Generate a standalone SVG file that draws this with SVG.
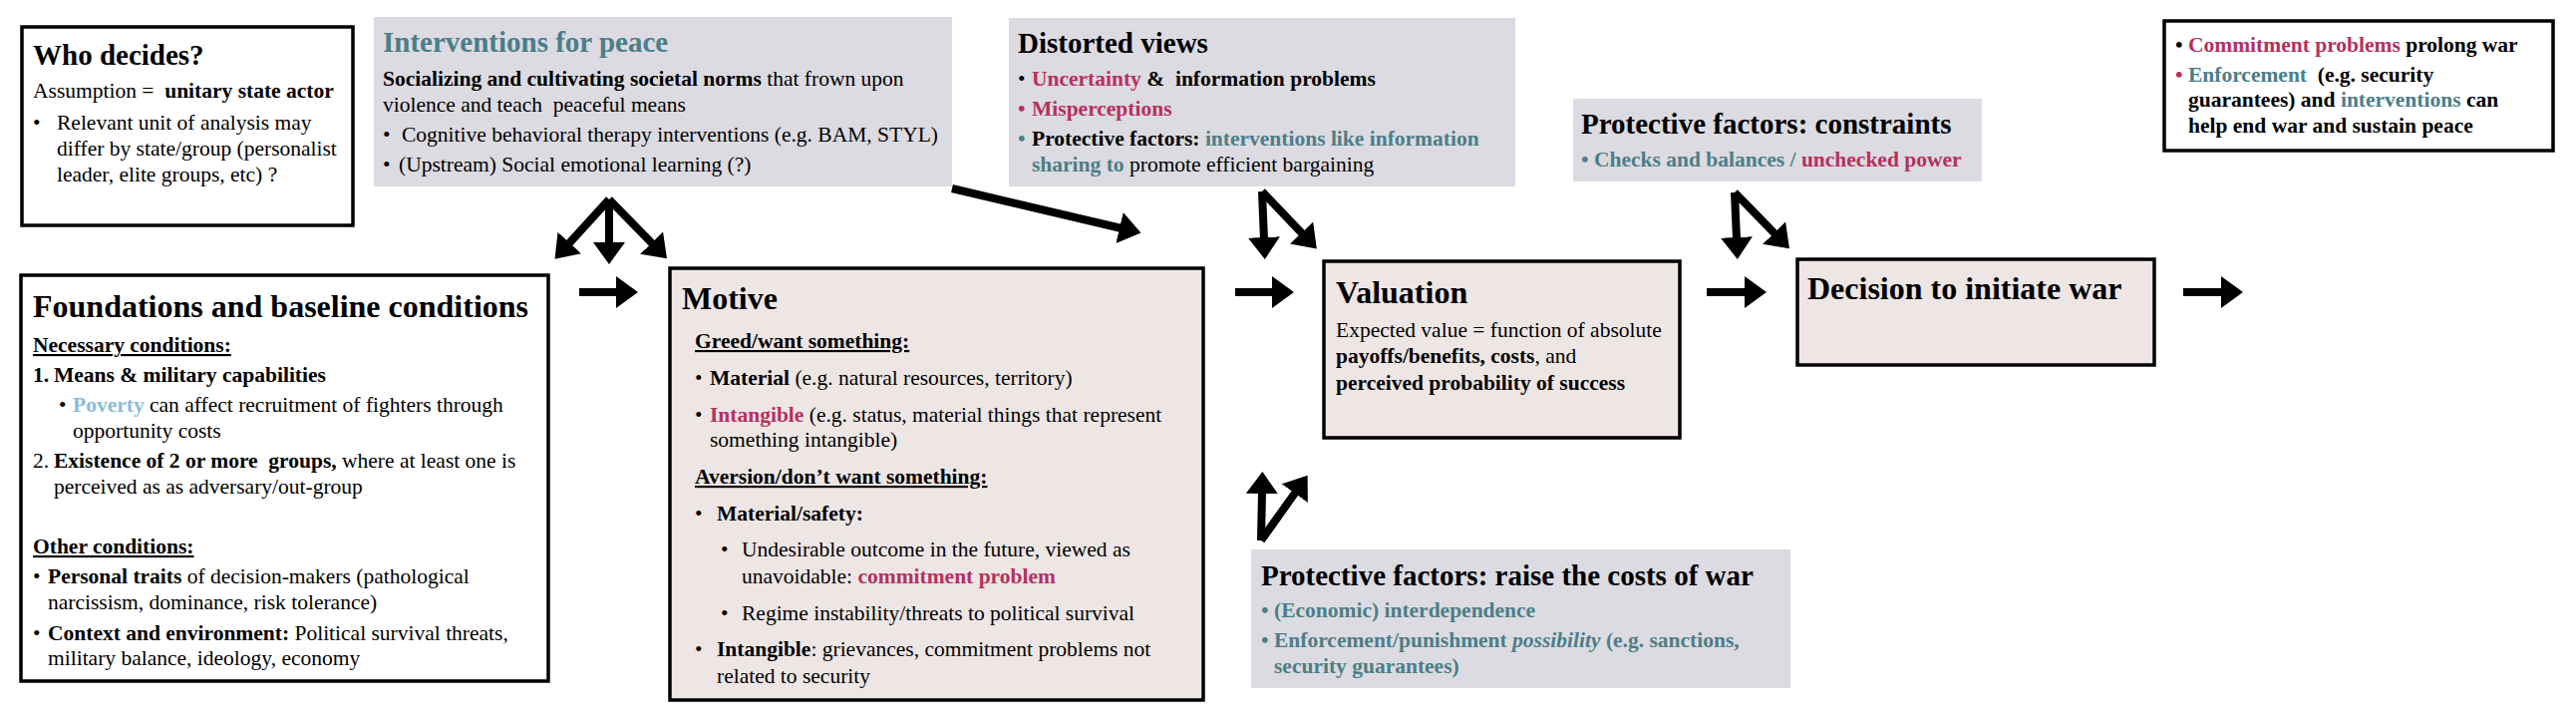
<svg xmlns="http://www.w3.org/2000/svg" width="2584" height="714" viewBox="0 0 2584 714">
<style>
text{font-family:"Liberation Serif","Times New Roman",serif;font-size:21.5px;fill:#000}
.t32{font-size:32px;font-weight:bold}
.t29{font-size:29px;font-weight:bold}
.b{font-weight:bold}
.i{font-style:italic}
.u{text-decoration:underline}
.cr{fill:#B5305F;font-weight:bold}
.tl{fill:#4B7E88;font-weight:bold}
.pv{fill:#8DBCD8;font-weight:bold}
.wbox{fill:#FFFFFF;stroke:#000;stroke-width:3.5}
.pbox{fill:#EEE6E5;stroke:#000;stroke-width:3.5}
.gbox{fill:#DCDBE1;stroke:none}
.con{fill:none;stroke:#000;stroke-width:8;marker-end:url(#ah)}
</style>
<defs>
<marker id="ah" markerUnits="userSpaceOnUse" markerWidth="24" markerHeight="32" refX="2" refY="16" orient="auto" viewBox="0 0 24 32">
<path d="M0,0 L22,16 L0,32 z" fill="#000"/>
</marker>
</defs>
<rect width="2584" height="714" fill="#FFFFFF"/>

<g id="who-decides">
<rect class="wbox" x="22" y="27" width="332" height="199"/>
<text class="t29" x="33" y="65">Who decides?</text>
<text x="33" y="98" xml:space="preserve">Assumption =  <tspan class="b">unitary state actor</tspan></text>
<text x="33" y="130">•</text>
<text x="57" y="130">Relevant unit of analysis may</text>
<text x="57" y="156">differ by state/group (personalist</text>
<text x="57" y="182">leader, elite groups, etc) ?</text>
</g>

<g id="interventions">
<rect class="gbox" x="375" y="17" width="580" height="170"/>
<text class="t29" x="384" y="52" style="fill:#4B7E88">Interventions for peace</text>
<text x="384" y="86"><tspan class="b">Socializing and cultivating societal norms</tspan> that frown upon</text>
<text x="384" y="112" xml:space="preserve">violence and teach  peaceful means</text>
<text x="384" y="142">•</text>
<text x="403" y="142">Cognitive behavioral therapy interventions (e.g. BAM, STYL)</text>
<text x="384" y="172">•</text>
<text x="400" y="172">(Upstream) Social emotional learning (?)</text>
</g>

<g id="foundations">
<rect class="wbox" x="21" y="276" width="529" height="407"/>
<text class="t32" x="33" y="318">Foundations and baseline conditions</text>
<text class="b u" x="33" y="353">Necessary conditions:</text>
<text class="b" x="33" y="383">1.</text>
<text class="b" x="54" y="383">Means &amp; military capabilities</text>
<text x="59" y="413">•</text>
<text x="73" y="413"><tspan class="pv">Poverty</tspan> can affect recruitment of fighters through</text>
<text x="73" y="439">opportunity costs</text>
<text x="33" y="469">2.</text>
<text x="54" y="469" xml:space="preserve"><tspan class="b">Existence of 2 or more  groups,</tspan> where at least one is</text>
<text x="54" y="495">perceived as as adversary/out-group</text>
<text class="b u" x="33" y="555">Other conditions:</text>
<text x="33" y="585">•</text>
<text x="48" y="585"><tspan class="b">Personal traits</tspan> of decision-makers (pathological</text>
<text x="48" y="611">narcissism, dominance, risk tolerance)</text>
<text x="33" y="642">•</text>
<text x="48" y="642"><tspan class="b">Context and environment:</tspan> Political survival threats,</text>
<text x="48" y="667">military balance, ideology, economy</text>
</g>

<g id="motive">
<rect class="pbox" x="672" y="269" width="535" height="433"/>
<text class="t32" x="684" y="310">Motive</text>
<text class="b u" x="697" y="349">Greed/want something:</text>
<text x="697" y="386">•</text>
<text x="712" y="386"><tspan class="b">Material</tspan> (e.g. natural resources, territory)</text>
<text x="697" y="423">•</text>
<text x="712" y="423"><tspan class="cr">Intangible</tspan> (e.g. status, material things that represent</text>
<text x="712" y="448">something intangible)</text>
<text class="b u" x="697" y="485">Aversion/don’t want something:</text>
<text x="697" y="522">•</text>
<text class="b" x="719" y="522">Material/safety:</text>
<text x="723" y="558">•</text>
<text x="744" y="558">Undesirable outcome in the future, viewed as</text>
<text x="744" y="585">unavoidable: <tspan class="cr">commitment problem</tspan></text>
<text x="723" y="622">•</text>
<text x="744" y="622">Regime instability/threats to political survival</text>
<text x="697" y="658">•</text>
<text x="719" y="658"><tspan class="b">Intangible</tspan>: grievances, commitment problems not</text>
<text x="719" y="685">related to security</text>
</g>

<g id="distorted-views">
<rect class="gbox" x="1012" y="18" width="508" height="169"/>
<text class="t29" x="1021" y="53">Distorted views</text>
<text x="1021" y="86">•</text>
<text x="1035" y="86" xml:space="preserve"><tspan class="cr">Uncertainty</tspan><tspan class="b"> &amp;  information problems</tspan></text>
<text class="cr" x="1021" y="116">•</text>
<text class="cr" x="1035" y="116">Misperceptions</text>
<text class="tl" x="1021" y="146">•</text>
<text x="1035" y="146"><tspan class="b">Protective factors:</tspan><tspan class="tl"> interventions like information</tspan></text>
<text x="1035" y="172"><tspan class="tl">sharing to</tspan> promote efficient bargaining</text>
</g>

<g id="valuation">
<rect class="pbox" x="1328" y="262" width="357" height="177"/>
<text class="t32" x="1340" y="304">Valuation</text>
<text x="1340" y="338">Expected value = function of absolute</text>
<text x="1340" y="364"><tspan class="b">payoffs/benefits, costs</tspan>, and</text>
<text class="b" x="1340" y="391">perceived probability of success</text>
</g>

<g id="raise-costs">
<rect class="gbox" x="1255" y="551" width="541" height="139"/>
<text class="t29" x="1265" y="587">Protective factors: raise the costs of war</text>
<text class="tl" x="1265" y="619">•</text>
<text class="tl" x="1278" y="619">(Economic) interdependence</text>
<text class="tl" x="1265" y="649">•</text>
<text class="tl" x="1278" y="649">Enforcement/punishment <tspan class="i">possibility</tspan> (e.g. sanctions,</text>
<text class="tl" x="1278" y="675">security guarantees)</text>
</g>

<g id="constraints">
<rect class="gbox" x="1578" y="99" width="410" height="83"/>
<text class="t29" x="1586" y="134">Protective factors: constraints</text>
<text class="tl" x="1586" y="167">•</text>
<text x="1599" y="167"><tspan class="tl">Checks and balances / </tspan><tspan class="cr">unchecked power</tspan></text>
</g>

<g id="decision">
<rect class="pbox" x="1803" y="260" width="358" height="106"/>
<text class="t32" x="1813" y="300">Decision to initiate war</text>
</g>

<g id="war-outcomes">
<rect class="wbox" x="2171" y="21" width="390" height="130"/>
<text class="b" x="2182" y="52">•</text>
<text x="2195" y="52"><tspan class="cr">Commitment problems</tspan><tspan class="b"> prolong war</tspan></text>
<text class="cr" x="2182" y="82">•</text>
<text x="2195" y="82" xml:space="preserve"><tspan class="tl">Enforcement</tspan><tspan class="b">  (e.g. security</tspan></text>
<text x="2195" y="107"><tspan class="b">guarantees) and </tspan><tspan class="tl">interventions</tspan><tspan class="b"> can</tspan></text>
<text class="b" x="2195" y="133">help end war and sustain peace</text>
</g>

<g id="connectors">
<path class="con" d="M611,200 L570,245"/>
<path class="con" d="M611,200 L611,245"/>
<path class="con" d="M611,200 L655,245"/>
<path class="con" d="M581,293 L620,293"/>
<path class="con" d="M955,189 L1125,229"/>
<path class="con" d="M1239,293 L1278,293"/>
<path class="con" d="M1266,192 L1268,240"/>
<path class="con" d="M1266,192 L1307,235"/>
<path class="con" d="M1265,542 L1266,493"/>
<path class="con" d="M1265,542 L1300,493"/>
<path class="con" d="M1712,293 L1752,293"/>
<path class="con" d="M1740,193 L1742,240"/>
<path class="con" d="M1740,193 L1781,235"/>
<path class="con" d="M2190,293 L2230,293"/>
</g>
</svg>
